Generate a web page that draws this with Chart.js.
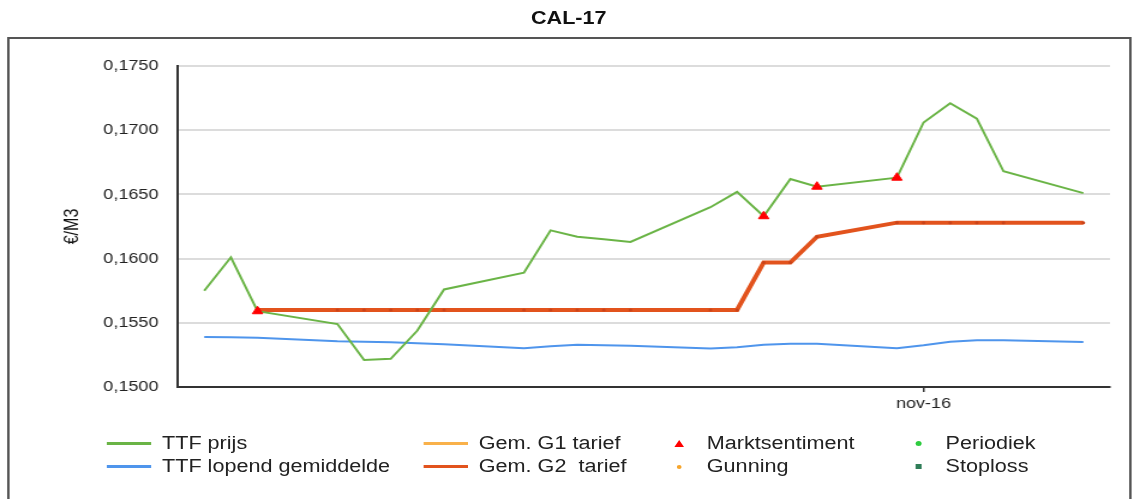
<!DOCTYPE html>
<html lang="nl">
<head>
  <meta charset="UTF-8" />
  <title>CAL-17</title>
  <style>
    body {
      margin: 0;
      background: #fff;
      overflow: hidden;
      font-family: 'Liberation Sans', Arial, sans-serif;
    }

    /* the original picture is stretched a little in width */
    #stage {
      position: relative;
      width: 948px;
      height: 499px;
      transform: scaleX(1.2);
      transform-origin: 0 0;
    }

    .frame {
      position: absolute;
      left: 6px;
      top: 37px;
      width: 937px;
      height: 520px;
      border: 2px solid #555;
      box-sizing: border-box;
    }

    .title {
      position: absolute;
      top: 8px;
      left: 0;
      width: 100%;
      text-align: center;
      font-weight: bold;
      font-size: 18px;
      line-height: 20px;
      color: #111;
    }

    .chart-box {
      position: absolute;
      left: 0;
      top: 0;
      width: 948px;
      height: 417px;
    }

    #legend {
      position: absolute;
      left: 89px;
      top: 432px;
      display: grid;
      grid-auto-flow: column;
      grid-template-rows: 23px 23px;
      grid-template-columns: 264px 204px 199px 160px;
      font-size: 18px;
      color: #222;
    }

    .item {
      display: flex;
      align-items: center;
      white-space: pre;
    }

    .swatch {
      width: 37px;
      height: 3px;
      margin-right: 9px;
    }

    .mark {
      width: 18px;
      margin-right: 14px;
      display: flex;
      justify-content: center;
      align-items: center;
    }
  </style>
</head>
<body>
  <div id="stage">
    <div class="title">CAL-17</div>
    <div class="frame"></div>
    <div class="chart-box"><canvas id="chart"></canvas></div>
    <div id="legend"></div>
  </div>

  <script src="https://cdn.jsdelivr.net/npm/chart.js"></script>
  <script>
    // trading days
    const dates = [
      '2016-10-05', '2016-10-06', '2016-10-07', '2016-10-10', '2016-10-11', '2016-10-12',
      '2016-10-13', '2016-10-14', '2016-10-17', '2016-10-18', '2016-10-19', '2016-10-20',
      '2016-10-21', '2016-10-24', '2016-10-25', '2016-10-26', '2016-10-27', '2016-10-28',
      '2016-10-31', '2016-11-01', '2016-11-02', '2016-11-03', '2016-11-04', '2016-11-07'
    ];

    const ttfPrijs = [
      0.1575, 0.1601, 0.1559, 0.1549, 0.1521, 0.1522,
      0.1544, 0.1576, 0.1589, 0.1622, 0.1617, 0.1615,
      0.1613, 0.1640, 0.1652, 0.1633, 0.1662, 0.1656,
      0.1663, 0.1706, 0.1721, 0.1709, 0.1668, 0.1651
    ];

    const ttfGemiddelde = [
      0.1539, 0.15387, 0.15384, 0.15356, 0.15352, 0.15348,
      0.15341, 0.15333, 0.15302, 0.15317, 0.15329, 0.15325,
      0.15321, 0.15299, 0.1531, 0.15329, 0.15337, 0.15337,
      0.15302, 0.15325, 0.15352, 0.15364, 0.15364, 0.15351
    ];

    const g2Tarief = [
      null, null, 0.1560, 0.1560, 0.1560, 0.1560,
      0.1560, 0.1560, 0.1560, 0.1560, 0.1560, 0.1560,
      0.1560, 0.1560, 0.1560, 0.1597, 0.1597, 0.1617,
      0.1628, 0.1628, 0.1628, 0.1628, 0.1628, 0.1628
    ];

    const sentimentDates = ['2016-10-07', '2016-10-26', '2016-10-28', '2016-10-31'];
    const sentimentValues = [0.1559, 0.1633, 0.1656, 0.1663];

    const axisStart = '2016-10-04';
    const axisEnd = '2016-11-08';
    const xTickDates = ['2016-11-01'];
    const xTickLabels = ['nov-16'];

    function toDay(s) {
      const [y, m, d] = s.split('-').map(Number);
      return Date.UTC(y, m - 1, d) / 86400000;
    }

    function series(ds, vals) {
      return ds.map((d, i) => ({ x: toDay(d), y: vals[i] })).filter(p => p.y !== null);
    }

    const chart = new Chart(document.getElementById('chart'), {
      type: 'line',
      data: {
        datasets: [
          { label: 'TTF prijs', data: series(dates, ttfPrijs), borderColor: '#6ab446', borderWidth: 2, pointRadius: 0, order: 1 },
          { label: 'TTF lopend gemiddelde', data: series(dates, ttfGemiddelde), borderColor: '#4f95ec', borderWidth: 2, pointRadius: 0, order: 4 },
          { label: 'Gem. G1 tarief', data: [], borderColor: '#f9b14a', borderWidth: 3, pointRadius: 0, order: 5 },
          { label: 'Gem. G2  tarief', data: series(dates, g2Tarief), borderColor: '#e2531d', borderWidth: 4,
            pointRadius: 1.5, pointBackgroundColor: '#c9431a', pointBorderWidth: 0, order: 2 },
          { label: 'Marktsentiment', data: series(sentimentDates, sentimentValues), showLine: false,
            pointStyle: 'triangle', pointRadius: 5, backgroundColor: '#ff0000', borderColor: '#ff0000', order: 0 },
          { label: 'Gunning', data: [], showLine: false, pointStyle: 'circle', pointRadius: 2,
            backgroundColor: '#f7a52b', borderColor: '#f7a52b', order: 6 },
          { label: 'Periodiek', data: [], showLine: false, pointStyle: 'circle', pointRadius: 2.5,
            backgroundColor: '#2ecc40', borderColor: '#2ecc40', order: 7 },
          { label: 'Stoploss', data: [], showLine: false, pointStyle: 'rect', pointRadius: 2.5,
            backgroundColor: '#2f7d58', borderColor: '#2f7d58', order: 8 }
        ]
      },
      options: {
        responsive: true,
        maintainAspectRatio: false,
        animation: false,
        layout: { padding: { top: 66, right: 23, left: 0, bottom: 0 } },
        plugins: {
          legend: { display: false },
          tooltip: { enabled: false }
        },
        scales: {
          x: {
            type: 'linear',
            min: toDay(axisStart),
            max: toDay(axisEnd),
            afterBuildTicks: s => { s.ticks = xTickDates.map(d => ({ value: toDay(d) })); },
            afterFit: s => { s.height = 30; },
            ticks: {
              callback: v => xTickLabels[xTickDates.map(toDay).indexOf(v)],
              font: { size: 15 },
              color: '#222',
              padding: 3,
              maxRotation: 0
            },
            grid: { drawOnChartArea: false, drawTicks: true, tickLength: 5, color: '#333', lineWidth: 1.5 },
            border: { color: '#333', width: 2 }
          },
          y: {
            min: 0.15,
            max: 0.175,
            afterFit: s => { s.width = 148; },
            ticks: {
              stepSize: 0.005,
              callback: v => v.toFixed(4).replace('.', ','),
              font: { size: 15 },
              color: '#222',
              padding: 16
            },
            grid: { color: '#dcdcdc', lineWidth: 2, drawTicks: false },
            border: { color: '#333', width: 2 },
            title: {
              display: true,
              text: '€/M3',
              font: { size: 16 },
              color: '#111',
              padding: { top: 51, bottom: 0 }
            }
          }
        }
      }
    });

    // legend in 2 rows x 4 columns, like the original
    const legend = document.getElementById('legend');
    chart.data.datasets.forEach(ds => {
      const item = document.createElement('div');
      item.className = 'item';
      let marker;
      if (ds.showLine === false) {
        marker = document.createElement('span');
        marker.className = 'mark';
        const dot = document.createElement('span');
        const r = ds.pointRadius;
        if (ds.pointStyle === 'triangle') {
          dot.style.cssText = `width:0;height:0;border-left:${r - 1}px solid transparent;border-right:${r - 1}px solid transparent;border-bottom:${r + 2}px solid ${ds.backgroundColor};`;
        } else {
          dot.style.cssText = `width:${r * 2}px;height:${r * 2}px;background:${ds.backgroundColor};border-radius:${ds.pointStyle === 'circle' ? '50%' : '0'};`;
        }
        marker.appendChild(dot);
      } else {
        marker = document.createElement('span');
        marker.className = 'swatch';
        marker.style.background = ds.borderColor;
      }
      item.appendChild(marker);
      item.appendChild(document.createTextNode(ds.label));
      legend.appendChild(item);
    });
  </script>
</body>
</html>
